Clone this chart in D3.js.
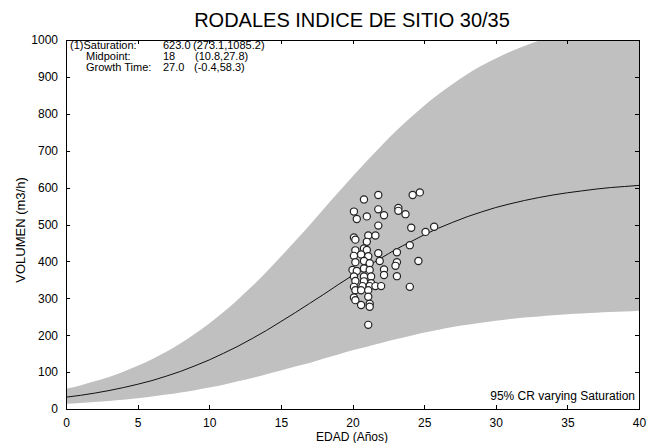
<!DOCTYPE html>
<html>
<head>
    <title>RODALES INDICE DE SITIO 30/35</title>
    <meta charset="utf-8">
    <style>
        body { margin: 0; background: #fff; }
        svg { font-family: "Liberation Sans", Arial, sans-serif; }
        .band { fill: #c0c0c0; stroke: none; }
        .fit { fill: none; stroke: #111; stroke-width: 1px; }
        .pt { fill: #fff; stroke: #222; stroke-width: 1.2px; }
        .axis path, .axis line { stroke: #000; shape-rendering: crispEdges; }
        .axis text { font-size: 12px; fill: #000; }
        .note { font-size: 11px; fill: #000; }
    </style>
    <script src="https://d3js.org/d3.v7.min.js"></script>
</head>
<body>
<script>

    // fitted curve and 95% band at each year
    var ages = [0, 1, 2, 3, 4, 5, 6, 7, 8, 9, 10, 11, 12, 13, 14, 15, 16, 17, 18, 19, 20,
                21, 22, 23, 24, 25, 26, 27, 28, 29, 30, 31, 32, 33, 34, 35, 36, 37, 38, 39, 40];
    var fitVol = [32, 37, 43, 50, 58, 67, 77, 89, 102, 117, 133, 151, 170, 191, 213, 237, 261, 286, 311, 337, 362,
                  386, 409, 432, 452, 472, 490, 506, 521, 534, 546, 556, 565, 573, 580, 586, 591, 596, 600, 603, 606];
    var lowVol = [14, 16, 19, 22, 25, 29, 34, 39, 45, 51, 58, 66, 75, 84, 94, 104, 115, 125, 137, 148, 159,
                  169, 179, 189, 198, 207, 215, 222, 228, 234, 239, 244, 248, 251, 254, 257, 259, 261, 263, 264, 266];
    var highVol = [55, 64, 75, 87, 101, 117, 135, 155, 178, 204, 232, 263, 297, 333, 372, 413, 455, 498, 543, 587, 630,
                   672, 713, 752, 788, 822, 853, 881, 907, 930, 950, 968, 984, 998, 1010, 1021, 1030, 1038, 1045, 1051, 1056];

    // observed stands
    var obsAge = [20.8, 21.8, 24.2, 24.7, 20.1, 20.3, 21.0, 21.8, 22.2, 23.2, 23.2, 23.7, 21.8, 24.1, 25.1, 25.7,
                  20.1, 20.2, 21.1, 21.6, 21.0, 24.0, 20.2, 20.8, 21.0, 21.8, 23.1, 20.1, 20.6, 21.1,
                  20.2, 20.8, 21.2, 21.9, 23.1, 23.0, 24.6, 20.0, 20.3, 20.8, 21.2, 22.2, 22.2,
                  20.1, 20.8, 21.3, 23.1, 20.2, 20.8, 21.3, 20.1, 20.7, 21.2, 21.6, 22.0, 24.0,
                  20.2, 20.6, 21.1, 20.1, 20.2, 21.1, 20.6, 21.2, 21.2, 21.1];
    var obsVol = [568, 580, 580, 587, 535, 515, 522, 541, 525, 545, 537, 528, 497, 491, 480, 494,
                  465, 459, 470, 470, 453, 444, 430, 435, 431, 422, 425, 415, 419, 414,
                  398, 401, 395, 401, 398, 388, 401, 377, 374, 381, 377, 378, 363,
                  359, 359, 359, 360, 347, 346, 341, 331, 333, 333, 333, 333, 331,
                  322, 322, 322, 302, 295, 304, 282, 285, 277, 228];

    var xTicks = [0, 5, 10, 15, 20, 25, 30, 35, 40];
    var yTicks = [0, 100, 200, 300, 400, 500, 600, 700, 800, 900, 1000];

    var noteNames = ["(1)Saturation:", "Midpoint:", "Growth Time:"];
    var noteValues = ["623.0", "18", "27.0"];
    var noteRanges = ["(273.1,1085.2)", "(10.8,27.8)", "(-0.4,58.3)"];

    var margin = {top: 40, right: 21, bottom: 34, left: 66},
        width = 660 - margin.left - margin.right,
        height = 443 - margin.top - margin.bottom;

    var svg = d3.select("body").append("svg")
        .attr("width", 660)
        .attr("height", 443);

    var g = svg.append("g")
        .attr("transform", "translate(" + margin.left + "," + margin.top + ")");

    var x = d3.scaleLinear().domain([0, 40]).range([0, width]);
    var y = d3.scaleLinear().domain([0, 1000]).range([height, 0]);

    g.append("clipPath").attr("id", "plotclip")
        .append("rect").attr("width", width).attr("height", height);

    var rows = ages.map(function(a, i) {
        return {age: a, fit: fitVol[i], low: lowVol[i], high: highVol[i]};
    });

    var band = d3.area()
        .x(function(d) { return x(d.age); })
        .y0(function(d) { return y(d.low); })
        .y1(function(d) { return y(d.high); })
        .curve(d3.curveMonotoneX);

    var fitLine = d3.line()
        .x(function(d) { return x(d.age); })
        .y(function(d) { return y(d.fit); })
        .curve(d3.curveMonotoneX);

    var plot = g.append("g").attr("clip-path", "url(#plotclip)");

    plot.append("path").datum(rows).attr("class", "band").attr("d", band);
    plot.append("path").datum(rows).attr("class", "fit").attr("d", fitLine);

    plot.selectAll("circle.pt")
        .data(obsAge)
        .enter().append("circle")
        .attr("class", "pt")
        .attr("cx", function(d) { return x(d); })
        .attr("cy", function(d, i) { return y(obsVol[i]); })
        .attr("r", 3.6);

    // box with inward ticks on every side (matlab style)
    g.append("g").attr("class", "axis")
        .attr("transform", "translate(0," + height + ")")
        .call(d3.axisBottom(x).tickValues(xTicks).tickSizeInner(-4).tickSizeOuter(0).tickPadding(9));
    g.append("g").attr("class", "axis")
        .call(d3.axisTop(x).tickValues(xTicks).tickSizeInner(-4).tickSizeOuter(0).tickFormat(""));
    g.append("g").attr("class", "axis")
        .call(d3.axisLeft(y).tickValues(yTicks).tickFormat(d3.format("d"))
            .tickSizeInner(-4).tickSizeOuter(0).tickPadding(8));
    g.append("g").attr("class", "axis")
        .attr("transform", "translate(" + width + ",0)")
        .call(d3.axisRight(y).tickValues(yTicks).tickSizeInner(-4).tickSizeOuter(0).tickFormat(""));

    // title and axis labels
    svg.append("text")
        .attr("x", 352).attr("y", 27)
        .attr("text-anchor", "middle")
        .style("font-size", "20px")
        .text("RODALES INDICE DE SITIO 30/35");

    svg.append("text")
        .attr("x", 352).attr("y", 441)
        .attr("text-anchor", "middle")
        .style("font-size", "12px")
        .text("EDAD (Años)");

    svg.append("text")
        .attr("transform", "translate(25,230) rotate(-90)")
        .attr("text-anchor", "middle")
        .style("font-size", "13px")
        .text("VOLUMEN (m3/h)");

    // fit parameters
    var nameX = [4, 20, 20], valueX = 97, rangeX = [127, 129, 128];
    noteNames.forEach(function(t, i) {
        var ty = 9 + i * 11;
        g.append("text").attr("class", "note").attr("x", nameX[i]).attr("y", ty).text(t);
        g.append("text").attr("class", "note").attr("x", valueX).attr("y", ty).text(noteValues[i]);
        g.append("text").attr("class", "note").attr("x", rangeX[i]).attr("y", ty).text(noteRanges[i]);
    });

    g.append("text").attr("class", "note")
        .attr("x", width - 4).attr("y", height - 9)
        .attr("text-anchor", "end")
        .style("font-size", "12px")
        .text("95% CR varying Saturation");

</script>
</body>
</html>
